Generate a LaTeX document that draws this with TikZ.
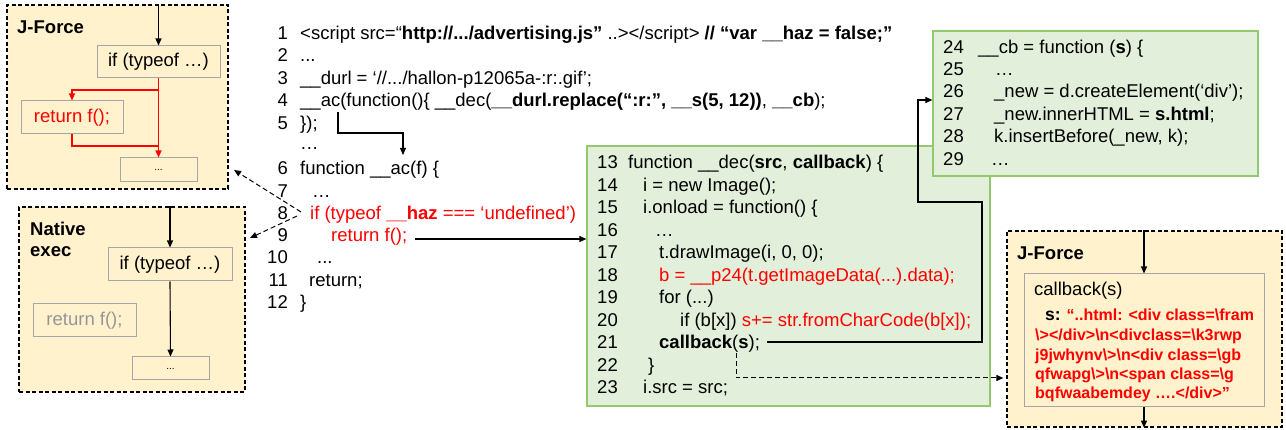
\documentclass[tikz,border=0pt]{standalone}
\usepackage{fontspec}
\setmainfont{Liberation Sans}
\usetikzlibrary{arrows.meta,calc}
\definecolor{yel}{RGB}{255,242,204}
\definecolor{grayb}{RGB}{166,166,166}
\definecolor{grayt}{RGB}{150,150,150}
\definecolor{grn}{RGB}{146,200,110}
\definecolor{grnfill}{RGB}{226,239,218}
\definecolor{cred}{RGB}{255,0,0}
\newcommand{\codefont}{\fontsize{18.5}{22}\selectfont}
\newcommand{\redfont}{\fontsize{16}{19}\selectfont\bfseries}
\newcommand{\us}{\_\_}
\begin{document}
\begin{tikzpicture}[x=1pt,y=-1pt,
  outer/.style={draw=black, dash pattern=on 4pt off 2.5pt, line width=1.2pt, fill=yel, inner sep=0pt},
  inbox/.style={draw=grayb, line width=1pt, fill=yel, inner sep=0pt, font=\codefont},
  greenbox/.style={draw=grn, line width=1.2pt, fill=grnfill, inner sep=0pt},
  code/.style={anchor=base west, inner sep=0pt, font=\codefont},
  num/.style={anchor=base east, inner sep=0pt, font=\codefont},
  ttl/.style={anchor=base west, inner sep=0pt, font=\codefont\bfseries},
  arr/.style={-{Triangle[length=7pt,width=6pt]}, line width=1.1pt},
  redarr/.style={arr, draw=cred},
  dasharr/.style={-{Triangle[length=7pt,width=6pt]}, line width=1pt, dash pattern=on 5pt off 3pt},
  dots/.style={font=\fontsize{10}{12}\selectfont}
]
\useasboundingbox (0,0) rectangle (1286,430);

% ---------- left J-Force box ----------
\node[outer, minimum width=221pt, minimum height=184pt] (jf1) at (117.5,97) {};
\node[ttl] (jf1t) at (17,34) {J-Force};
\node[inbox, minimum width=123pt, minimum height=32pt] (if1) at (158.5,62) {if (typeof …)};
\node[inbox, minimum width=102pt, minimum height=33pt, text=cred] (ret1) at (72,117.5) {return f();};
\node[inbox, minimum width=77pt, minimum height=24pt, dots] (dot1) at (158.5,170) {...};
\draw[arr] (if1.north |- jf1.north) -- (if1.north);
\draw[redarr] (if1.south) -- (dot1.north);
\draw[redarr] (if1.south |- 0,90) -| (ret1.north);
\draw[cred, line width=1.1pt] (ret1.south) |- (if1.south |- 0,146);

% ---------- Native exec box ----------
\node[outer, minimum width=226pt, minimum height=185pt] (ne) at (132,299.5) {};
\node[ttl] (net1) at (30,236) {Native};
\node[ttl] (net2) at (30,257) {exec};
\node[inbox, minimum width=124pt, minimum height=33pt] (if2) at (170,264.5) {if (typeof …)};
\node[inbox, minimum width=103pt, minimum height=33pt, text=grayt] (ret2) at (84.5,320.5) {return f();};
\node[inbox, minimum width=77pt, minimum height=23pt, dots] (dot2) at (170.5,368.5) {...};
\draw[arr] (if2.north |- ne.north) -- (if2.north);
\draw[arr] (if2.south) -- (dot2.north);

% ---------- main code ----------
\node[num] (n1) at (288,40) {1};
\node[code] (l1) at (300,40) {<script src=“\textbf{http://.../advertising.js”} ..></script> \textbf{// “var \us haz = false;”}};
\node[num] (n2) at (288,62) {2};
\node[code] (l2) at (300,62) {...};
\node[num] (n3) at (288,85) {3};
\node[code] (l3) at (300,85) {\us durl = ‘//.../hallon-p12065a-:r:.gif’;};
\node[num] (n4) at (288,107) {4};
\node[code] (l4) at (300,107) {\us ac(function()\{ \us dec(\textbf{\us durl.replace(“:r:”, \us s(5, 12))}, \textbf{\us cb});};
\node[num] (n5) at (288,130) {5};
\node[code] (l5) at (300,130) {\});};
\node[code] (l5b) at (300,150) {…};
\node[num] (n6) at (288,175) {6};
\node[code] (l6) at (300,175) {function \us ac(f) \{};
\node[num] (n7) at (288,198) {7};
\node[code] (l7) at (312,198) {…};
\node[num] (n8) at (288,220) {8};
\node[code, text=cred] (l8) at (310,220) {if (typeof \textbf{\us haz} === ‘undefined’)};
\node[num] (n9) at (288,242) {9};
\node[code, text=cred] (l9) at (331,242) {return f();};
\node[num] (n10) at (288,264) {10};
\node[code] (l10) at (317,264) {...};
\node[num] (n11) at (288,287) {11};
\node[code] (l11) at (309,287) {return;};
\node[num] (n12) at (288,309) {12};
\node[code] (l12) at (300,309) {\}};

% ---------- __dec box ----------
\node[greenbox, minimum width=403pt, minimum height=260pt] (dec) at (788.5,276) {};
\node[num] (n13) at (618,169) {13};
\node[code] (l13) at (628,169) {function \us dec(\textbf{src}, \textbf{callback}) \{};
\node[num] (n14) at (618,192) {14};
\node[code] (l14) at (643,192) {i = new Image();};
\node[num] (n15) at (618,214) {15};
\node[code] (l15) at (643,214) {i.onload = function() \{};
\node[num] (n16) at (618,237) {16};
\node[code] (l16) at (655,237) {…};
\node[num] (n17) at (618,259) {17};
\node[code] (l17) at (659,259) {t.drawImage(i, 0, 0);};
\node[num] (n18) at (618,282) {18};
\node[code, text=cred] (l18) at (659,282) {b = \us p24(t.getImageData(...).data);};
\node[num] (n19) at (618,304) {19};
\node[code] (l19) at (659,304) {for (...)};
\node[num] (n20) at (618,327) {20};
\node[code] (l20) at (680,327) {if (b[x]) \textcolor{cred}{s+= str.fromCharCode(b[x]);}};
\node[num] (n21) at (618,349) {21};
\node[code] (l21) at (659,349) {\textbf{callback}(\textbf{s});};
\node[num] (n22) at (618,372) {22};
\node[code] (l22) at (648,372) {\}};
\node[num] (n23) at (618,394) {23};
\node[code] (l23) at (643,394) {i.src = src;};

% ---------- __cb box ----------
\node[greenbox, minimum width=325pt, minimum height=145pt] (cb) at (1095.5,103.5) {};
\node[num] (n24) at (964,54) {24};
\node[code] (l24) at (978,54) {\us cb = function (\textbf{s}) \{};
\node[num] (n25) at (964,76) {25};
\node[code] (l25) at (995,76) {…};
\node[num] (n26) at (964,98) {26};
\node[code] (l26) at (994,98) {\_new = d.createElement(‘div’);};
\node[num] (n27) at (964,121) {27};
\node[code] (l27) at (994,121) {\_new.innerHTML = \textbf{s.html};};
\node[num] (n28) at (964,143) {28};
\node[code] (l28) at (994,143) {k.insertBefore(\_new, k);};
\node[num] (n29) at (964,166) {29};
\node[code] (l29) at (991,166) {…};

% ---------- right J-Force box ----------
\node[outer, minimum width=275pt, minimum height=196pt] (jf2) at (1144.5,329) {};
\node[ttl] (jf2t) at (1017,260) {J-Force};
\node[inbox, minimum width=240pt, minimum height=133pt] (cbk) at (1144,340.5) {};
\node[code] (cbt) at (1034,296) {callback(s)};
\node[code, font=\redfont, text=cred] (s1) at (1045,321) {\textcolor{black}{\fontsize{17.5}{19}\selectfont s:} “..html: <div class=\textbackslash fram};
\node[code, font=\redfont, text=cred] (s2) at (1035,341) {\textbackslash ></div>\textbackslash n<divclass=\textbackslash k3rwp};
\node[code, font=\redfont, text=cred] (s3) at (1035,361) {j9jwhynv\textbackslash >\textbackslash n<div class=\textbackslash gb};
\node[code, font=\redfont, text=cred] (s4) at (1035,380) {qfwapg\textbackslash >\textbackslash n<span class=\textbackslash g};
\node[code, font=\redfont, text=cred] (s5) at (1035,399) {bqfwaabemdey ….</div>”};
\draw[arr] (cbk.north |- jf2.north) -- (cbk.north);
\draw[arr] (cbk.south) -- (cbk.south |- jf2.south);

% ---------- connectors ----------
\coordinate (ac4) at (338,112);
\coordinate (fn6) at (403,155);
\draw[arr] (ac4) |- (fn6 |- 0,133) -- (fn6);

\coordinate (ret9) at (415,239);
\draw[arr] (ret9) -- (dec.west |- ret9);

\coordinate (src8) at (301,212);
\coordinate (tjf1) at (234,170);
\coordinate (tne) at (250,238);
\draw[dasharr] (src8) -- (tjf1);
\draw[dasharr] ($(src8)+(-4,4)$) -- (tne);

\coordinate (cbs) at (767,342);
\draw[arr] (cbs) -- (982,342) -- (982,202) -- (918,202) -- (918,100) -- (cb.west |- 0,100);

\coordinate (sdn) at (736,353);
\draw[dasharr] (sdn) |- ($(jf2.west |- 0,378)+(-3,0)$);
\end{tikzpicture}
\end{document}
